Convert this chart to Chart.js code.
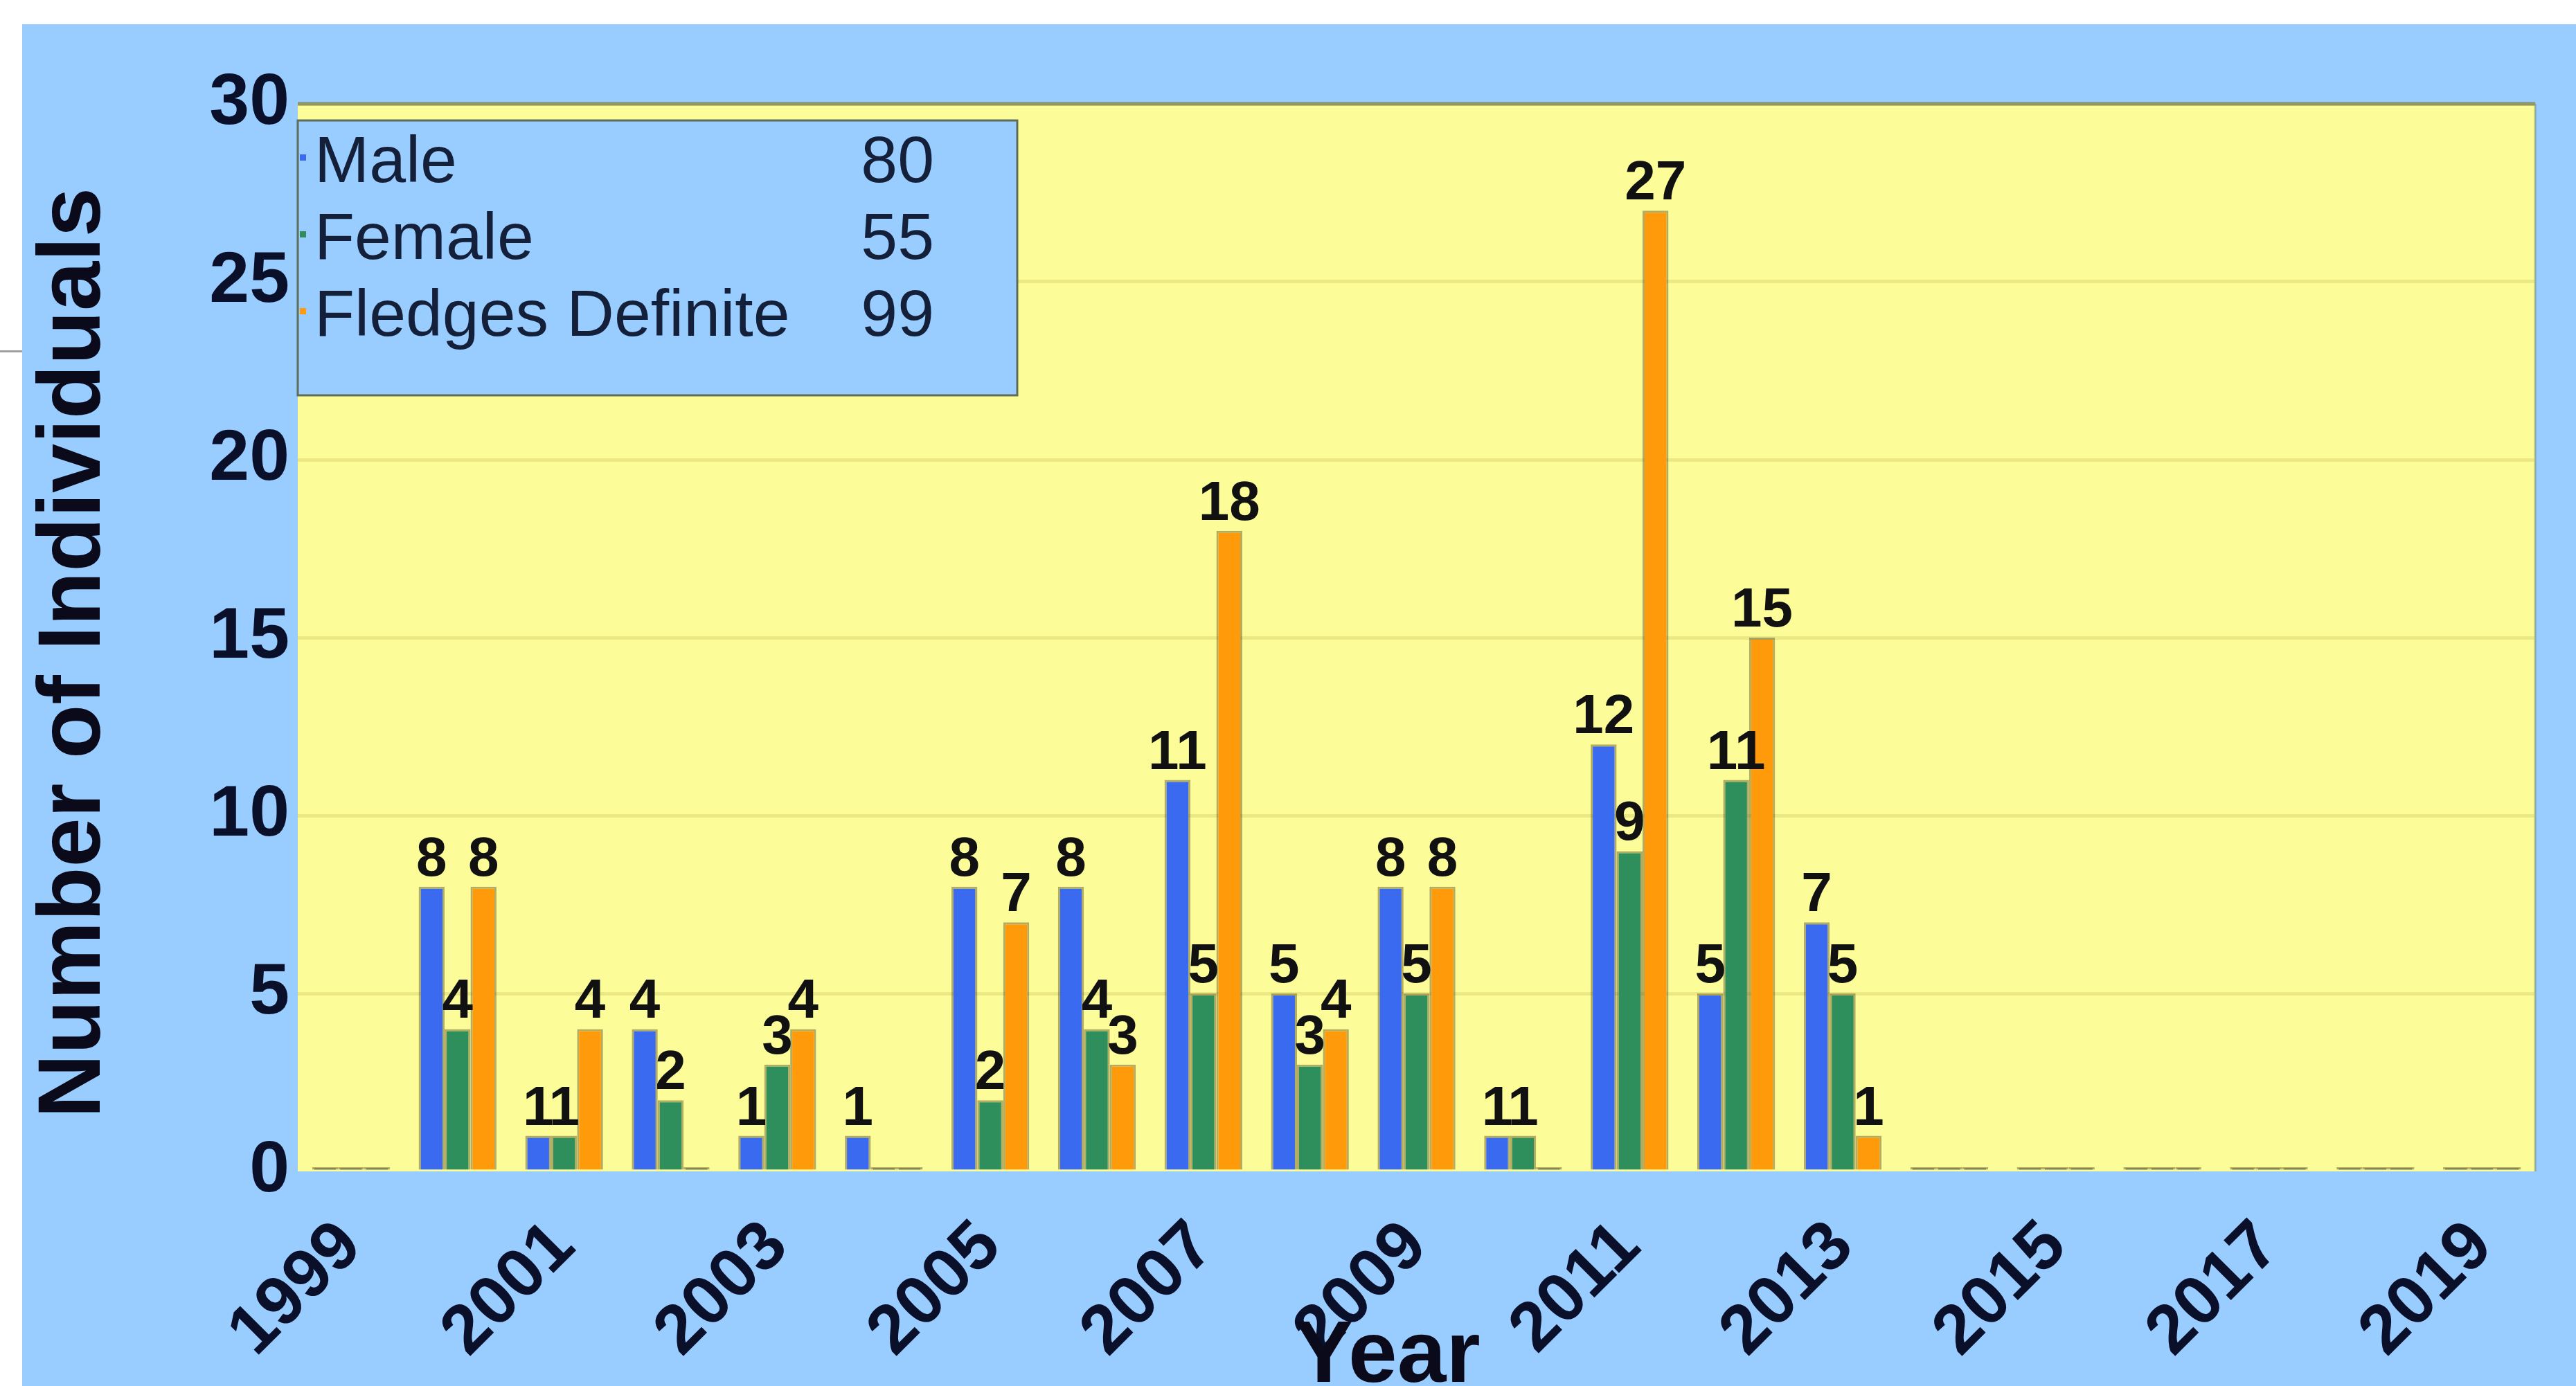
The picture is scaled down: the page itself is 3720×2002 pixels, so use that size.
<!DOCTYPE html>
<html>
<head>
<meta charset="utf-8">
<title>Number of Individuals by Year</title>
<script src="https://cdn.jsdelivr.net/npm/chart.js@4"></script>
<style>
  html, body { margin: 0; padding: 0; background: #fff; overflow: hidden; }
  #wrap { position: absolute; left: 32px; top: 35px; width: 3688px; height: 1967px; background: #99ccff; }
  #mark { position: absolute; left: 0; top: 506px; width: 32px; height: 3px; background: #a0a0a0; }
</style>
</head>
<body>
<div id="mark"></div>
<div id="wrap"><canvas id="chart"></canvas></div>
<script>
const years = ['1999', '2000', '2001', '2002', '2003', '2004', '2005', '2006', '2007', '2008', '2009',
  '2010', '2011', '2012', '2013', '2014', '2015', '2016', '2017', '2018', '2019'];
const male = [0, 8, 1, 4, 1, 1, 8, 8, 11, 5, 8, 1, 12, 5, 7, 0, 0, 0, 0, 0, 0];
const female = [0, 4, 1, 2, 3, 0, 2, 4, 5, 3, 5, 1, 9, 11, 5, 0, 0, 0, 0, 0, 0];
const fledges = [0, 8, 4, 0, 4, 0, 7, 3, 18, 4, 8, 0, 27, 15, 1, 0, 0, 0, 0, 0, 0];
const yTicks = [0, 5, 10, 15, 20, 25, 30];

const FONT = "'Liberation Sans', Arial, sans-serif";
const zeroColor = '#414c38';
const total = arr => arr.reduce((a, b) => a + b, 0);

// yellow plot background + dark top edge
const plotBg = {
  id: 'plotBg',
  beforeDraw(chart) {
    const { ctx, chartArea: a } = chart;
    ctx.save();
    ctx.fillStyle = '#fcfc98';
    ctx.fillRect(a.left, a.top, a.right - a.left, a.bottom - a.top);
    ctx.strokeStyle = '#6f7f63';
    ctx.lineWidth = 5;
    ctx.beginPath();
    ctx.moveTo(a.left, a.top);
    ctx.lineTo(a.right, a.top);
    ctx.stroke();
    ctx.strokeStyle = 'rgba(110,130,110,0.5)';
    ctx.lineWidth = 3;
    ctx.beginPath();
    ctx.moveTo(a.right, a.top);
    ctx.lineTo(a.right, a.bottom);
    ctx.stroke();
    ctx.restore();
  }
};

// numbers above bars
const barValues = {
  id: 'barValues',
  afterDatasetsDraw(chart) {
    const { ctx } = chart;
    ctx.save();
    ctx.font = 'bold 80px ' + FONT;
    ctx.fillStyle = '#111111';
    ctx.textAlign = 'center';
    ctx.textBaseline = 'alphabetic';
    chart.data.datasets.forEach((ds, i) => {
      chart.getDatasetMeta(i).data.forEach((bar, j) => {
        if (!ds.data[j]) return;
        ctx.fillText(String(ds.data[j]), bar.x, bar.y - 16);
      });
    });
    ctx.restore();
  }
};

// axis titles, placed a bit off-centre like the original
const axisTitles = {
  id: 'axisTitles',
  afterDraw(chart) {
    const { ctx, chartArea: a } = chart;
    ctx.save();
    ctx.fillStyle = '#0a0a1a';
    ctx.font = 'bold 128px ' + FONT;
    ctx.textAlign = 'center';
    ctx.textBaseline = 'middle';
    ctx.translate(77, (a.top + a.bottom) / 2 + 22);
    ctx.rotate(-Math.PI / 2);
    ctx.fillText('Number of Individuals', 0, 0);
    ctx.restore();
    ctx.save();
    ctx.fillStyle = '#0a0a1a';
    ctx.font = 'bold 127px ' + FONT;
    ctx.textAlign = 'center';
    ctx.textBaseline = 'alphabetic';
    ctx.fillText('Year', (a.left + a.right) / 2 - 42, chart.height - 6);
    ctx.restore();
  }
};

// legend box with totals
const totalsLegend = {
  id: 'totalsLegend',
  afterDraw(chart) {
    const { ctx, chartArea: a } = chart;
    const x = a.left, y = a.top + 24, w = 1039, h = 397;
    ctx.save();
    ctx.fillStyle = '#99ccff';
    ctx.fillRect(x, y, w, h);
    ctx.strokeStyle = '#5d6d5a';
    ctx.lineWidth = 3;
    ctx.strokeRect(x, y, w, h);
    ctx.font = '95px ' + FONT;
    ctx.textBaseline = 'alphabetic';
    chart.data.datasets.forEach((ds, i) => {
      const base = y + 89 + i * 111;
      ctx.fillStyle = ds.backgroundColor.base;
      ctx.fillRect(x + 3, base - 40, 9, 9);
      ctx.fillStyle = '#14203a';
      ctx.textAlign = 'left';
      ctx.fillText(ds.label, x + 24, base);
      ctx.textAlign = 'right';
      ctx.fillText(String(total(ds.data)), x + 919, base);
    });
    ctx.restore();
  }
};

function barColor(c) {
  const f = ctx => (ctx.raw === 0 ? zeroColor : c);
  f.base = c;
  return f;
}

new Chart(document.getElementById('chart'), {
  type: 'bar',
  data: {
    labels: years,
    datasets: [
      { label: 'Male', data: male, backgroundColor: barColor('#3a6af0') },
      { label: 'Female', data: female, backgroundColor: barColor('#2e8f5c') },
      { label: 'Fledges Definite', data: fledges, backgroundColor: barColor('#ff9a0a') }
    ]
  },
  options: {
    responsive: true,
    maintainAspectRatio: false,
    animation: false,
    devicePixelRatio: 1,
    layout: { padding: { left: 0, right: 40, top: 115, bottom: 0 } },
    datasets: {
      bar: {
        categoryPercentage: 0.73,
        barPercentage: 1.0,
        minBarLength: 6,
        borderWidth: 3,
        borderColor: 'rgba(70,55,20,0.4)',
        borderSkipped: 'start'
      }
    },
    plugins: {
      legend: { display: false },
      tooltip: { enabled: false }
    },
    scales: {
      x: {
        grid: { display: false, drawTicks: false },
        border: { display: false },
        ticks: {
          autoSkip: false,
          minRotation: 45,
          maxRotation: 45,
          padding: 50,
          color: '#0a0f2a',
          font: { family: FONT, size: 100, weight: 'bold' },
          callback: (v, i) => (i % 2 === 0 ? years[i] : '')
        },
        afterFit: s => { s.height = 310; }
      },
      y: {
        min: yTicks[0],
        max: yTicks[yTicks.length - 1],
        afterBuildTicks: s => { s.ticks = yTicks.map(v => ({ value: v })); },
        grid: {
          drawTicks: false,
          lineWidth: 5,
          color: c => (c.tick && c.tick.value === 0 ? 'rgba(0,0,0,0)' : 'rgba(205,195,95,0.35)')
        },
        border: { display: false },
        ticks: {
          padding: 12,
          color: '#0a0f2a',
          font: { family: FONT, size: 104, weight: 'bold' }
        },
        afterFit: s => { s.width = 398; }
      }
    }
  },
  plugins: [plotBg, barValues, axisTitles, totalsLegend]
});
</script>
</body>
</html>
